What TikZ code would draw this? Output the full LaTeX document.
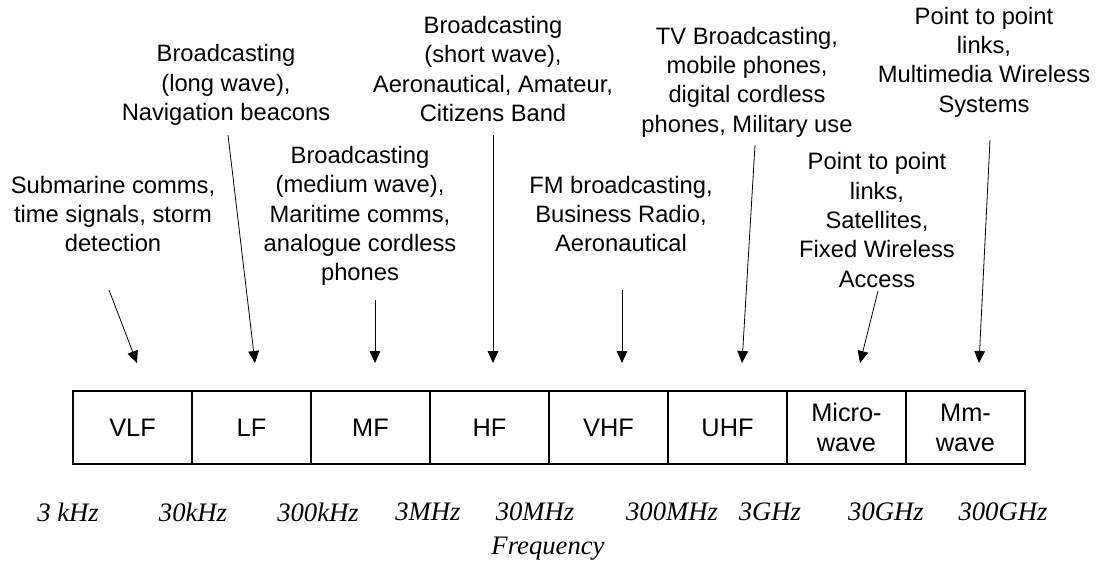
\documentclass[tikz,border=0pt]{standalone}
\usepackage{fontspec}
\setmainfont{Liberation Serif}
\newfontfamily\arialfont{Liberation Sans}
\usetikzlibrary{arrows.meta}
\tikzset{
  lab/.style={font=\arialfont\fontsize{17.8}{22}\selectfont, align=center, inner sep=0pt},
  cell/.style={draw, line width=0.9pt, minimum width=89.25pt, minimum height=54.75pt, inner sep=0pt,
    font=\arialfont\fontsize{19}{22.5}\selectfont, align=center},
  freq/.style={font=\fontsize{20}{24}\selectfont\itshape, inner sep=0pt},
  arr/.style={line width=0.6pt, -{Triangle[length=9pt,width=8pt]}}
}
\begin{document}
\begin{tikzpicture}[x=0.75pt,y=-0.75pt]
\useasboundingbox (0,0) rectangle (1098,572);
% band cells
\node[cell] (c1) at (132.5,427.5) {VLF};
\node[cell] (c2) at (251.5,427.5) {LF};
\node[cell] (c3) at (370.5,427.5) {MF};
\node[cell] (c4) at (489.5,427.5) {HF};
\node[cell] (c5) at (608.5,427.5) {VHF};
\node[cell] (c6) at (727.5,427.5) {UHF};
\node[cell] (c7) at (846.5,427.5) {Micro-\\wave};
\node[cell] (c8) at (965.5,427.5) {Mm-\\wave};
% application texts
\node[lab] (t1) at (113,214) {Submarine comms,\\time signals, storm\\detection};
\node[lab] (t2) at (226,85) {Broadcasting\\(long wave),\\Navigation beacons};
\node[lab] (t3) at (360,216) {Broadcasting\\(medium wave),\\Maritime comms,\\analogue cordless\\phones};
\node[lab] (t4) at (493,69) {Broadcasting\\(short wave),\\Aeronautical, Amateur,\\Citizens Band};
\node[lab] (t5) at (621,214) {FM broadcasting,\\Business Radio,\\Aeronautical};
\node[lab] (t6) at (747,82) {TV Broadcasting,\\mobile phones,\\digital cordless\\phones, Military use};
\node[lab] (t7) at (877,220) {Point to point\\links,\\Satellites,\\Fixed Wireless\\Access};
\node[lab] (t8) at (984,62) {Point to point\\links,\\Multimedia Wireless\\Systems};
% arrow ends
\coordinate (s1) at (109,290); \coordinate (e1) at (137,363);
\coordinate (s2) at (228,135); \coordinate (e2) at (255,363);
\coordinate (s3) at (375,300); \coordinate (e3) at (375,363);
\coordinate (s4) at (493,135); \coordinate (e4) at (493,363);
\coordinate (s5) at (622,290); \coordinate (e5) at (622,363);
\coordinate (s6) at (755,145); \coordinate (e6) at (742,363);
\coordinate (s7) at (878,291); \coordinate (e7) at (860,363);
\coordinate (s8) at (990,140); \coordinate (e8) at (979,363);
\foreach \i in {1,...,8} { \draw[arr] (s\i) -- (e\i); }
% frequency labels
\node[freq] (f1) at (68,512) {3 kHz};
\node[freq] (f2) at (193,512) {30kHz};
\node[freq] (f3) at (318,512) {300kHz};
\node[freq] (f4) at (428,512) {3MHz};
\node[freq] (f5) at (535,512) {30MHz};
\node[freq] (f6) at (672,512) {300MHz};
\node[freq] (f7) at (770,512) {3GHz};
\node[freq] (f8) at (886,512) {30GHz};
\node[freq] (f9) at (1003,512) {300GHz};
\node[freq] (fq) at (548,549) {Frequency};
\end{tikzpicture}
\end{document}
